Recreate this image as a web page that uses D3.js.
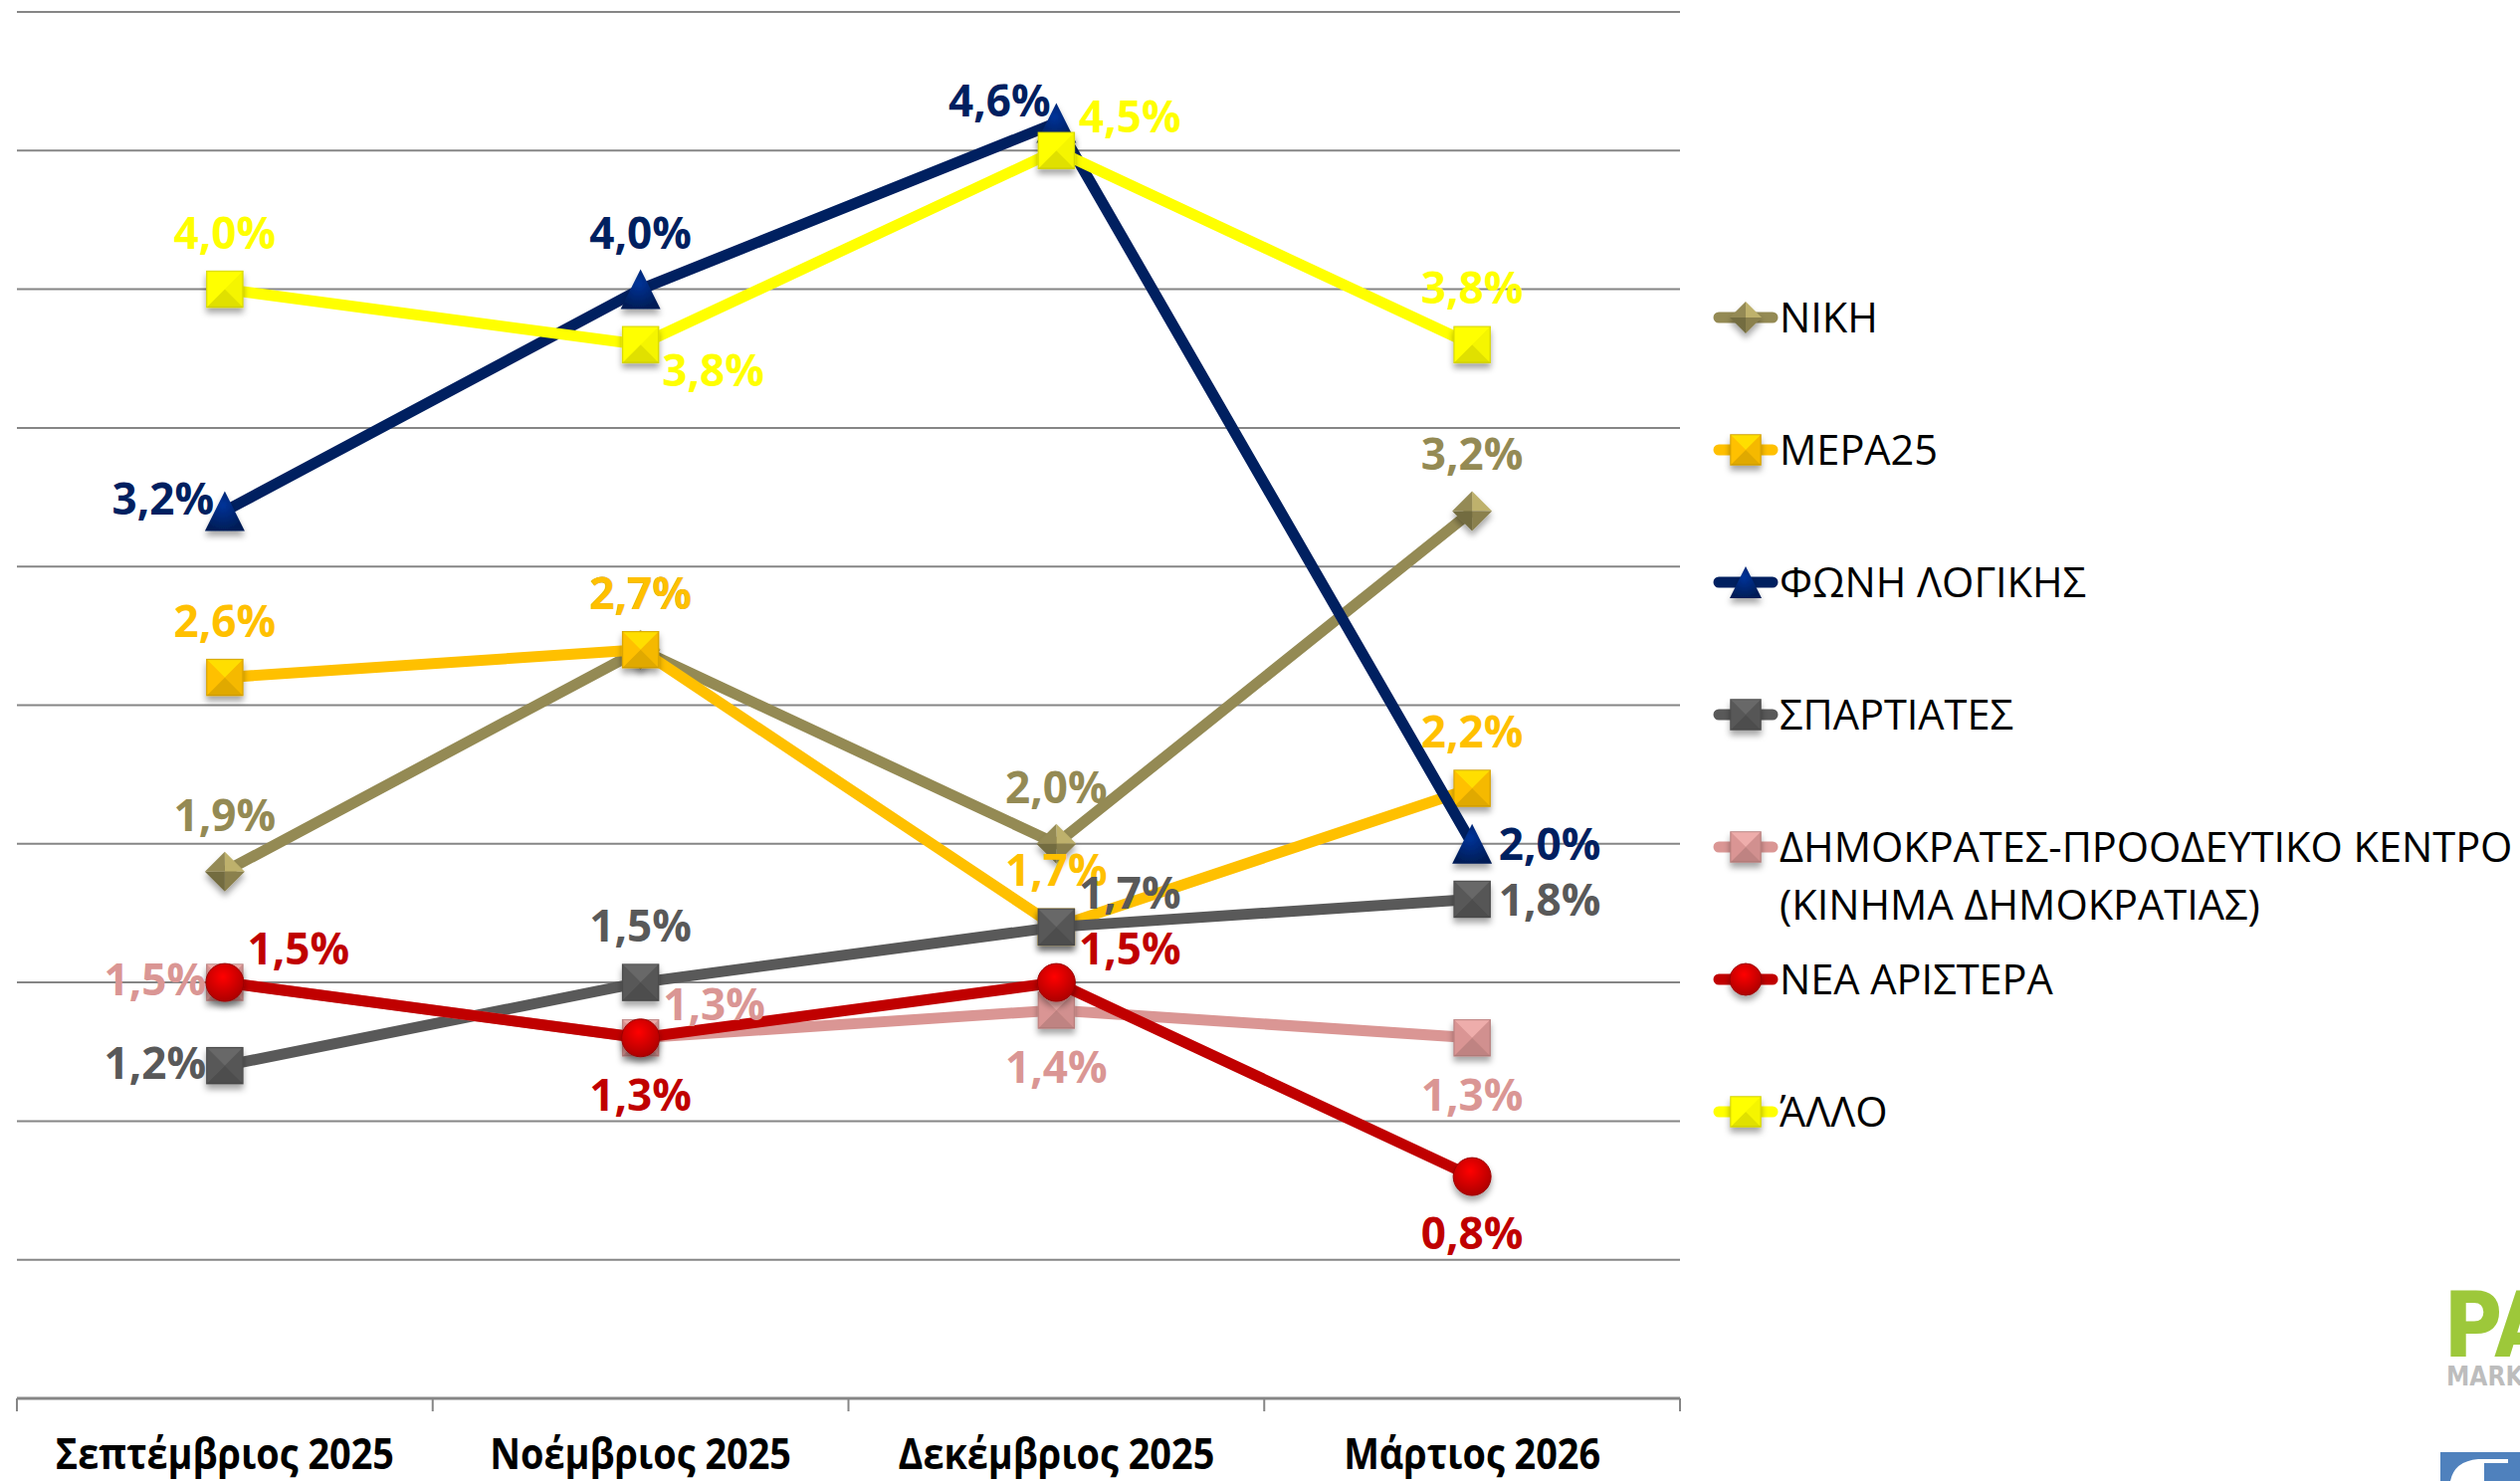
<!DOCTYPE html>
<html lang="el">
<head>
<meta charset="utf-8">
<title></title>
<script src="https://cdn.jsdelivr.net/npm/d3@7"></script>
<style>
  body { margin: 0; background: #fff; }
  svg { font-family: "Open Sans", sans-serif; display: block; }
  .grid line { stroke: #868686; stroke-width: 2; }
  .lbl { font-weight: bold; font-size: 44px; }
  .xlbl { font-weight: bold; font-size: 43px; fill: #000; }
  .leg { font-size: 41.5px; fill: #000; }
</style>
</head>
<body>
<svg width="2532" height="1488"></svg>
<script>
var months = ["Σεπτέμβριος 2025", "Νοέμβριος 2025", "Δεκέμβριος 2025", "Μάρτιος 2026"];
var parties = ["ΝΙΚΗ", "ΜΕΡΑ25", "ΦΩΝΗ ΛΟΓΙΚΗΣ", "ΣΠΑΡΤΙΑΤΕΣ",
  "ΔΗΜΟΚΡΑΤΕΣ-ΠΡΟΟΔΕΥΤΙΚΟ ΚΕΝΤΡΟ (ΚΙΝΗΜΑ ΔΗΜΟΚΡΑΤΙΑΣ)", "ΝΕΑ ΑΡΙΣΤΕΡΑ", "ΆΛΛΟ"];

var niki        = [1.9, 2.7, 2.0, 3.2];
var mera25      = [2.6, 2.7, 1.7, 2.2];
var foniLogikis = [3.2, 4.0, 4.6, 2.0];
var spartiates  = [1.2, 1.5, 1.7, 1.8];
var dimokrates  = [1.5, 1.3, 1.4, 1.3];
var neaAristera = [1.5, 1.3, 1.5, 0.8];
var allo        = [4.0, 3.8, 4.5, 3.8];

var values = [niki, mera25, foniLogikis, spartiates, dimokrates, neaAristera, allo];

// styling per series
var colors  = ["#948A54", "#FFC000", "#002060", "#595959", "#DA9694", "#C00000", "#FFFF00"];
var shapes  = ["diamond", "square", "triangle", "square", "square", "circle", "square"];
// where each data label sits relative to its point
var labelPos = [
  ["t", "t", "t", "t"],
  ["t", "t", "t", "t"],
  ["lt", "t", "tl", "r"],
  ["l", "t", "tr", "r"],
  ["l", "tr", "b", "b"],
  ["tr", "b", "tr", "b"],
  ["t", "br", "tr", "t"]
];
var offsets = { t: [0, -57], b: [0, 57], l: [-70, -3], lt: [-62, -12], r: [78, 0],
                tr: [74, -34], tl: [-57, -22], br: [73, 26] };

var svg = d3.select("svg");
var defs = svg.append("defs");

var shadow = defs.append("filter").attr("id", "shadow")
  .attr("x", "-50%").attr("y", "-50%").attr("width", "200%").attr("height", "200%");
shadow.append("feDropShadow").attr("dx", 0).attr("dy", 5).attr("stdDeviation", 3)
  .attr("flood-color", "#000").attr("flood-opacity", 0.35);

colors.forEach(function(c, i) {
  var g = defs.append("radialGradient").attr("id", "rg" + i)
    .attr("cx", "45%").attr("cy", "35%").attr("r", "65%");
  g.append("stop").attr("offset", "0%").attr("stop-color", d3.color(c).brighter(1.3));
  g.append("stop").attr("offset", "100%").attr("stop-color", d3.color(c).darker(0.3));
});

var xScale = d3.scaleBand().domain(months).range([17, 1688]);
var yScale = d3.scaleLinear().domain([0, 5]).range([1405, 12]);
var cx = function(i) { return xScale(months[i]) + xScale.bandwidth() / 2; };

// gridlines
svg.append("g").attr("class", "grid")
  .selectAll("line")
  .data(d3.range(0.5, 5.01, 0.5))
  .join("line")
  .attr("x1", 17).attr("x2", 1688)
  .attr("y1", d => yScale(d)).attr("y2", d => yScale(d));

// x axis
var xAxis = svg.append("g").attr("transform", "translate(0," + yScale(0) + ")");
xAxis.append("line").attr("x1", 17).attr("x2", 1688)
  .attr("stroke", "#868686").attr("stroke-width", 3);
xAxis.selectAll(".tk")
  .data(months.map(m => xScale(m)).concat([1688]))
  .join("line").attr("class", "tk")
  .attr("x1", d => d).attr("x2", d => d)
  .attr("y1", 0).attr("y2", 13)
  .attr("stroke", "#868686").attr("stroke-width", 2);
xAxis.selectAll(".xlbl")
  .data(months)
  .join("text").attr("class", "xlbl")
  .attr("x", (d, i) => cx(i)).attr("y", 71)
  .attr("text-anchor", "middle")
  .text(d => d)
  .each(function() {
    var w = this.getComputedTextLength();
    d3.select(this).attr("textLength", w * 0.88).attr("lengthAdjust", "spacingAndGlyphs");
  });

function drawMarker(g, shape, x, y, s, color, idx) {
  var c = d3.color(color);
  var light = c.brighter(0.7), dark = c.darker(0.7), mid = c.darker(0.2);
  var h = s / 2;
  if (shape === "square") {
    var faces = [
      [[x - h, y - h], [x + h, y - h], [x, y], light],
      [[x + h, y - h], [x + h, y + h], [x, y], mid],
      [[x + h, y + h], [x - h, y + h], [x, y], dark],
      [[x - h, y + h], [x - h, y - h], [x, y], c]
    ];
    var m = g.append("g").attr("filter", "url(#shadow)");
    m.append("rect").attr("x", x - h).attr("y", y - h).attr("width", s).attr("height", s)
      .attr("fill", color).attr("stroke", c.darker(0.5)).attr("stroke-width", 1.5);
    faces.forEach(function(f) {
      m.append("path").attr("d", "M" + f[0] + "L" + f[1] + "L" + f[2] + "Z")
        .attr("fill", f[3]).attr("opacity", 0.55);
    });
  } else if (shape === "diamond") {
    var m = g.append("g").attr("filter", "url(#shadow)");
    var pts = [[x, y - h], [x + h, y], [x, y + h], [x - h, y]];
    var shades = [light, mid, dark, c];
    pts.forEach(function(p, k) {
      var q = pts[(k + 1) % 4];
      m.append("path").attr("d", "M" + p + "L" + q + "L" + [x, y] + "Z").attr("fill", shades[k]);
    });
  } else if (shape === "triangle") {
    g.append("path")
      .attr("d", "M" + [x, y - h] + "L" + [x + h, y + h] + "L" + [x - h, y + h] + "Z")
      .attr("fill", "url(#rg" + idx + ")").attr("filter", "url(#shadow)");
  } else {
    g.append("circle").attr("cx", x).attr("cy", y).attr("r", h)
      .attr("fill", "url(#rg" + idx + ")").attr("stroke", c.darker(0.6)).attr("stroke-width", 1)
      .attr("filter", "url(#shadow)");
  }
}

var line = d3.line().x((d, i) => cx(i)).y(d => yScale(d));
var plot = svg.append("g");
values.forEach(function(vals, si) {
  var g = plot.append("g");
  g.append("path").datum(vals)
    .attr("fill", "none").attr("stroke", colors[si]).attr("stroke-width", 11)
    .attr("stroke-linejoin", "round").attr("d", line);
  vals.forEach(function(v, i) {
    var s = shapes[si] === "square" ? 36 : (shapes[si] === "circle" ? 38 : 40);
    drawMarker(g, shapes[si], cx(i), yScale(v), s, colors[si], si);
  });
});

// data labels
var fmt = d3.format(".1f");
var labels = svg.append("g");
values.forEach(function(vals, si) {
  vals.forEach(function(v, i) {
    var o = offsets[labelPos[si][i]];
    labels.append("text").attr("class", "lbl")
      .attr("x", cx(i) + o[0]).attr("y", yScale(v) + o[1] + 16)
      .attr("text-anchor", "middle")
      .attr("fill", colors[si])
      .text(fmt(v).replace(".", ",") + "%");
  });
});

// legend
var legend = svg.append("g");
parties.forEach(function(p, i) {
  var y = 319 + 133 * i;
  legend.append("line").attr("x1", 1727).attr("x2", 1781).attr("y1", y).attr("y2", y)
    .attr("stroke", colors[i]).attr("stroke-width", 11).attr("stroke-linecap", "round");
  drawMarker(legend, shapes[i], 1754, y, shapes[i] === "square" ? 30 : 32, colors[i], i);
  var parts = p.split(" (");
  var t = legend.append("text").attr("class", "leg").attr("x", 1788).attr("y", y + 15);
  t.append("tspan").text(parts[0]);
  if (parts.length > 1) {
    t.append("tspan").attr("x", 1788).attr("dy", 58).text("(" + parts[1]);
  }
});

// logos, bottom right
var logo = svg.append("g");
logo.append("text").attr("x", 2455).attr("y", 1363)
  .attr("font-family", "DejaVu Sans Condensed, DejaVu Sans").attr("font-weight", "bold")
  .attr("font-size", 90).attr("fill", "#9DC83A").text("PA");
logo.append("text").attr("x", 2458).attr("y", 1392)
  .attr("font-family", "DejaVu Sans Condensed, DejaVu Sans").attr("font-weight", "bold")
  .attr("font-size", 26).attr("fill", "#BDBDBD").text("MARKET");
logo.append("rect").attr("x", 2452).attr("y", 1459).attr("width", 80).attr("height", 29)
  .attr("fill", "#4F81BD");
logo.append("path").attr("d", "M2462,1488 Q2466,1468 2490,1466 L2520,1466 L2520,1470 L2496,1470 L2496,1488 Z")
  .attr("fill", "#fff");
</script>
</body>
</html>
